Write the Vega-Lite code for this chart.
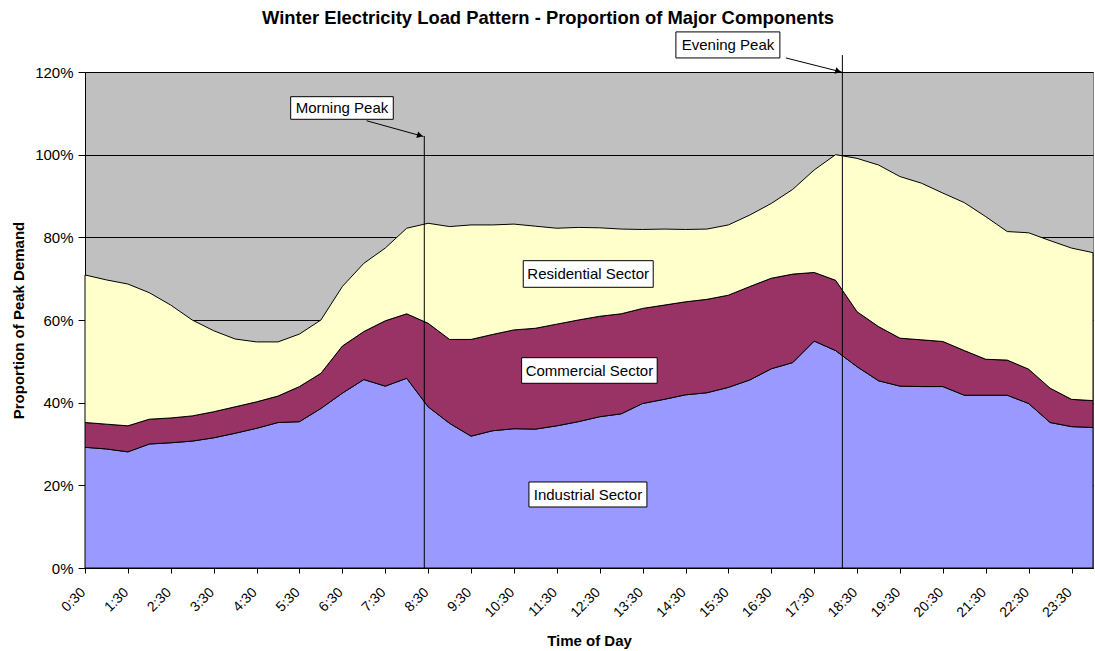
{
  "$schema": "https://vega.github.io/schema/vega-lite/v6.json",
  "width": 1008,
  "height": 496,
  "autosize": {"type": "none"},
  "padding": {"left": 85, "top": 72, "right": 2, "bottom": 83},
  "background": "white",
  "title": {
    "text": "Winter Electricity Load Pattern - Proportion of Major Components",
    "font": "Liberation Sans",
    "fontSize": 18.4,
    "fontWeight": "bold",
    "color": "black",
    "anchor": "middle",
    "frame": "group",
    "dx": -41,
    "dy": 20,
    "offset": 9,
    "baseline": "alphabetic"
  },
  "config": {
    "view": {"fill": "#C0C0C0", "stroke": "#808080", "strokeWidth": 1},
    "axis": {"labelFont": "Liberation Sans", "titleFont": "Liberation Sans", "labelColor": "black", "titleColor": "black", "domainColor": "black", "tickColor": "black"}
  },
  "datasets": {
    "load": [
      {"time": "0:30", "hour": 0.5, "Industrial": 29.2, "Commercial": 6.0, "Residential": 35.7},
      {"time": "1:00", "hour": 1.0, "Industrial": 28.8, "Commercial": 6.0, "Residential": 34.9},
      {"time": "1:30", "hour": 1.5, "Industrial": 28.1, "Commercial": 6.3, "Residential": 34.3},
      {"time": "2:00", "hour": 2.0, "Industrial": 30.0, "Commercial": 6.0, "Residential": 30.6},
      {"time": "2:30", "hour": 2.5, "Industrial": 30.3, "Commercial": 6.0, "Residential": 27.3},
      {"time": "3:00", "hour": 3.0, "Industrial": 30.7, "Commercial": 6.1, "Residential": 23.2},
      {"time": "3:30", "hour": 3.5, "Industrial": 31.5, "Commercial": 6.3, "Residential": 19.6},
      {"time": "4:00", "hour": 4.0, "Industrial": 32.6, "Commercial": 6.4, "Residential": 16.4},
      {"time": "4:30", "hour": 4.5, "Industrial": 33.8, "Commercial": 6.4, "Residential": 14.5},
      {"time": "5:00", "hour": 5.0, "Industrial": 35.2, "Commercial": 6.4, "Residential": 13.1},
      {"time": "5:30", "hour": 5.5, "Industrial": 35.4, "Commercial": 8.5, "Residential": 12.7},
      {"time": "6:00", "hour": 6.0, "Industrial": 38.6, "Commercial": 8.5, "Residential": 12.9},
      {"time": "6:30", "hour": 6.5, "Industrial": 42.3, "Commercial": 11.4, "Residential": 14.4},
      {"time": "7:00", "hour": 7.0, "Industrial": 45.6, "Commercial": 11.6, "Residential": 16.5},
      {"time": "7:30", "hour": 7.5, "Industrial": 44.0, "Commercial": 15.8, "Residential": 17.6},
      {"time": "8:00", "hour": 8.0, "Industrial": 45.9, "Commercial": 15.6, "Residential": 20.7},
      {"time": "8:30", "hour": 8.5, "Industrial": 39.0, "Commercial": 20.2, "Residential": 24.2},
      {"time": "9:00", "hour": 9.0, "Industrial": 35.0, "Commercial": 20.3, "Residential": 27.3},
      {"time": "9:30", "hour": 9.5, "Industrial": 31.9, "Commercial": 23.4, "Residential": 27.7},
      {"time": "10:00", "hour": 10.0, "Industrial": 33.2, "Commercial": 23.3, "Residential": 26.5},
      {"time": "10:30", "hour": 10.5, "Industrial": 33.7, "Commercial": 23.9, "Residential": 25.6},
      {"time": "11:00", "hour": 11.0, "Industrial": 33.6, "Commercial": 24.4, "Residential": 24.7},
      {"time": "11:30", "hour": 11.5, "Industrial": 34.4, "Commercial": 24.6, "Residential": 23.2},
      {"time": "12:00", "hour": 12.0, "Industrial": 35.4, "Commercial": 24.6, "Residential": 22.4},
      {"time": "12:30", "hour": 12.5, "Industrial": 36.6, "Commercial": 24.3, "Residential": 21.4},
      {"time": "13:00", "hour": 13.0, "Industrial": 37.3, "Commercial": 24.2, "Residential": 20.5},
      {"time": "13:30", "hour": 13.5, "Industrial": 39.8, "Commercial": 23.0, "Residential": 19.1},
      {"time": "14:00", "hour": 14.0, "Industrial": 40.8, "Commercial": 22.8, "Residential": 18.4},
      {"time": "14:30", "hour": 14.5, "Industrial": 41.9, "Commercial": 22.5, "Residential": 17.5},
      {"time": "15:00", "hour": 15.0, "Industrial": 42.4, "Commercial": 22.6, "Residential": 17.0},
      {"time": "15:30", "hour": 15.5, "Industrial": 43.7, "Commercial": 22.3, "Residential": 17.0},
      {"time": "16:00", "hour": 16.0, "Industrial": 45.5, "Commercial": 22.6, "Residential": 17.3},
      {"time": "16:30", "hour": 16.5, "Industrial": 48.2, "Commercial": 21.9, "Residential": 18.1},
      {"time": "17:00", "hour": 17.0, "Industrial": 49.7, "Commercial": 21.4, "Residential": 20.5},
      {"time": "17:30", "hour": 17.5, "Industrial": 54.9, "Commercial": 16.6, "Residential": 24.8},
      {"time": "18:00", "hour": 18.0, "Industrial": 52.6, "Commercial": 17.0, "Residential": 30.4},
      {"time": "18:30", "hour": 18.5, "Industrial": 48.7, "Commercial": 13.3, "Residential": 37.1},
      {"time": "19:00", "hour": 19.0, "Industrial": 45.3, "Commercial": 13.1, "Residential": 39.1},
      {"time": "19:30", "hour": 19.5, "Industrial": 44.0, "Commercial": 11.6, "Residential": 39.1},
      {"time": "20:00", "hour": 20.0, "Industrial": 43.9, "Commercial": 11.3, "Residential": 37.9},
      {"time": "20:30", "hour": 20.5, "Industrial": 43.9, "Commercial": 10.9, "Residential": 35.9},
      {"time": "21:00", "hour": 21.0, "Industrial": 41.8, "Commercial": 10.8, "Residential": 35.8},
      {"time": "21:30", "hour": 21.5, "Industrial": 41.8, "Commercial": 8.7, "Residential": 34.5},
      {"time": "22:00", "hour": 22.0, "Industrial": 41.8, "Commercial": 8.5, "Residential": 31.1},
      {"time": "22:30", "hour": 22.5, "Industrial": 39.8, "Commercial": 8.3, "Residential": 33.0},
      {"time": "23:00", "hour": 23.0, "Industrial": 35.2, "Commercial": 8.3, "Residential": 35.7},
      {"time": "23:30", "hour": 23.5, "Industrial": 34.2, "Commercial": 6.6, "Residential": 36.6},
      {"time": "24:00", "hour": 24.0, "Industrial": 34.0, "Commercial": 6.5, "Residential": 35.8}
    ],
    "peaks": [
      {"name": "Morning Peak", "hour": 8.41, "top": 104.5, "bx": 5.295, "bx2": 7.687, "by": 114.03, "by2": 108.56, "tx": 6.491, "ty": 111.3, "ax": 7.066, "ay": 108.2, "ax2": 8.39, "ay2": 104.4, "hx": 8.31, "hy": 104.62},
      {"name": "Evening Peak", "hour": 18.157, "top": 124.1, "bx": 14.276, "bx2": 16.7, "by": 129.7, "by2": 123.4, "tx": 15.49, "ty": 126.5, "ax": 16.84, "ay": 123.4, "ax2": 18.14, "ay2": 120.0, "hx": 18.06, "hy": 120.2}
    ],
    "labels": [
      {"name": "Residential Sector", "bx": 10.717, "bx2": 13.747, "by": 74.35, "by2": 67.91, "tx": 12.232, "ty": 71.13},
      {"name": "Commercial Sector", "bx": 10.679, "bx2": 13.84, "by": 50.88, "by2": 44.69, "tx": 12.26, "ty": 47.78},
      {"name": "Industrial Sector", "bx": 10.85, "bx2": 13.6, "by": 20.81, "by2": 14.76, "tx": 12.225, "ty": 17.78}
    ]
  },
  "layer": [
    {
      "data": {"name": "load"},
      "transform": [
        {"fold": ["Industrial", "Commercial", "Residential"], "as": ["sector", "value"]},
        {"calculate": "indexof(['Industrial', 'Commercial', 'Residential'], datum.sector)", "as": "ord"}
      ],
      "mark": {"type": "area", "stroke": "black", "strokeWidth": 1, "opacity": 1},
      "encoding": {
        "x": {
          "field": "hour", "type": "quantitative", "title": "Time of Day",
          "scale": {"domain": [0.5, 24], "nice": false, "zero": false},
          "axis": {
            "titleFontSize": 15, "titleFontWeight": "bold",
            "titleBaseline": "alphabetic", "titleY": 77,
            "values": [0.5,1,1.5,2,2.5,3,3.5,4,4.5,5,5.5,6,6.5,7,7.5,8,8.5,9,9.5,10,10.5,11,11.5,12,12.5,13,13.5,14,14.5,15,15.5,16,16.5,17,17.5,18,18.5,19,19.5,20,20.5,21,21.5,22,22.5,23,23.5,24],
            "labelExpr": "datum.value % 1 == 0.5 ? floor(datum.value) + ':30' : ''",
            "labelAngle": -45, "labelAlign": "right", "labelBaseline": "top",
            "labelFontSize": 14, "labelOverlap": false, "labelFlush": false, "labelBound": false,
            "labelOffset": -7, "labelPadding": 12,
            "tickSize": 5, "grid": false, "domainWidth": 1
          }
        },
        "y": {
          "field": "value", "type": "quantitative", "stack": "zero", "title": "Proportion of Peak Demand",
          "scale": {"domain": [0, 120], "nice": false},
          "axis": {
            "titleFontSize": 15, "titleFontWeight": "bold",
            "titleX": -62, "titleY": 248, "titleBaseline": "alphabetic", "titleAngle": -90,
            "values": [0, 20, 40, 60, 80, 100, 120],
            "labelExpr": "datum.value + '%'",
            "labelFontSize": 15, "labelPadding": 5, "tickSize": 7,
            "grid": true, "gridColor": "black", "gridOpacity": 1, "gridWidth": 1
          }
        },
        "color": {
          "field": "sector", "type": "nominal",
          "scale": {"domain": ["Industrial", "Commercial", "Residential"], "range": ["#9999FF", "#993366", "#FFFFCC"]},
          "legend": null
        },
        "order": {"field": "ord", "type": "quantitative"}
      }
    },
    {
      "data": {"name": "peaks"},
      "mark": {"type": "rule", "color": "black", "strokeWidth": 1},
      "encoding": {
        "x": {"field": "hour", "type": "quantitative", "title": "Time of Day"},
        "y": {"field": "top", "type": "quantitative", "title": "Proportion of Peak Demand"},
        "y2": {"datum": 0}
      }
    },
    {
      "data": {"name": "peaks"},
      "mark": {"type": "rule", "color": "black", "strokeWidth": 1},
      "encoding": {
        "x": {"field": "ax", "type": "quantitative", "title": "Time of Day"},
        "x2": {"field": "ax2"},
        "y": {"field": "ay", "type": "quantitative", "title": "Proportion of Peak Demand"},
        "y2": {"field": "ay2"}
      }
    },
    {
      "data": {"name": "peaks"},
      "mark": {"type": "point", "shape": "triangle-right", "filled": true, "color": "black", "size": 45, "angle": 15, "opacity": 1},
      "encoding": {
        "x": {"field": "hx", "type": "quantitative", "title": "Time of Day"},
        "y": {"field": "hy", "type": "quantitative", "title": "Proportion of Peak Demand"}
      }
    },
    {
      "data": {"name": "peaks"},
      "mark": {"type": "rect", "fill": "white", "stroke": "black", "strokeWidth": 1},
      "encoding": {
        "x": {"field": "bx", "type": "quantitative", "title": "Time of Day"},
        "x2": {"field": "bx2"},
        "y": {"field": "by", "type": "quantitative", "title": "Proportion of Peak Demand"},
        "y2": {"field": "by2"}
      }
    },
    {
      "data": {"name": "peaks"},
      "mark": {"type": "text", "font": "Liberation Sans", "fontSize": 15, "color": "black", "align": "center", "baseline": "middle"},
      "encoding": {
        "x": {"field": "tx", "type": "quantitative", "title": "Time of Day"},
        "y": {"field": "ty", "type": "quantitative", "title": "Proportion of Peak Demand"},
        "text": {"field": "name"}
      }
    },
    {
      "data": {"name": "labels"},
      "mark": {"type": "rect", "fill": "white", "stroke": "black", "strokeWidth": 1},
      "encoding": {
        "x": {"field": "bx", "type": "quantitative", "title": "Time of Day"},
        "x2": {"field": "bx2"},
        "y": {"field": "by", "type": "quantitative", "title": "Proportion of Peak Demand"},
        "y2": {"field": "by2"}
      }
    },
    {
      "data": {"name": "labels"},
      "mark": {"type": "text", "font": "Liberation Sans", "fontSize": 15, "color": "black", "align": "center", "baseline": "middle"},
      "encoding": {
        "x": {"field": "tx", "type": "quantitative", "title": "Time of Day"},
        "y": {"field": "ty", "type": "quantitative", "title": "Proportion of Peak Demand"},
        "text": {"field": "name"}
      }
    }
  ]
}
